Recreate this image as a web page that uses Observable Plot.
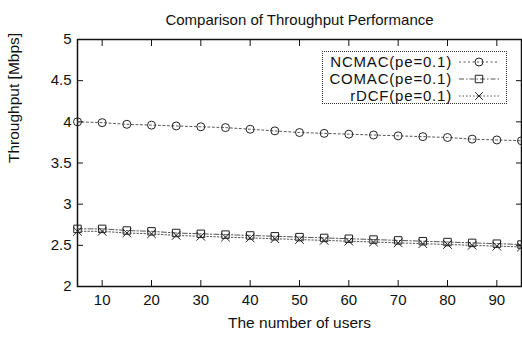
<!DOCTYPE html>
<html>
<head>
<meta charset="utf-8">
<script src="https://cdn.jsdelivr.net/npm/d3@7"></script>
<script src="https://cdn.jsdelivr.net/npm/@observablehq/plot@0.6"></script>
<style>
  html, body { margin: 0; padding: 0; background: #fff; }
  #wrap { position: relative; width: 522px; height: 341px; font-family: "Liberation Sans", Arial, sans-serif; }
  #legend { position: absolute; left: 322px; top: 51px; width: 185px; height: 53px; border: 1px dotted #333; background: #fff; box-sizing: border-box; }
  .row { position: absolute; left: 0; height: 17px; width: 100%; }
  .row span { position: absolute; right: 54px; top: 0; font-size: 15px; line-height: 17px; height: 17px; letter-spacing: 0.8px; color: #111; white-space: nowrap; }
  .row svg { position: absolute; left: 134px; top: 0; }
</style>
</head>
<body>
<div id="wrap"></div>
<script>
const title = "Comparison of Throughput Performance";
const xLabel = "The number of users";
const yLabel = "Throughput [Mbps]";
const users = [5, 10, 15, 20, 25, 30, 35, 40, 45, 50, 55, 60, 65, 70, 75, 80, 85, 90, 95];
const ncmac = [4.00, 3.99, 3.97, 3.96, 3.95, 3.94, 3.93, 3.91, 3.89, 3.87, 3.86, 3.85, 3.84, 3.83, 3.82, 3.81, 3.79, 3.78, 3.77];
const comac = [2.70, 2.70, 2.68, 2.67, 2.65, 2.64, 2.63, 2.62, 2.61, 2.60, 2.59, 2.58, 2.57, 2.56, 2.55, 2.54, 2.53, 2.52, 2.51];
const rdcf  = [2.67, 2.67, 2.65, 2.64, 2.62, 2.61, 2.60, 2.59, 2.58, 2.57, 2.56, 2.55, 2.54, 2.53, 2.52, 2.51, 2.50, 2.49, 2.48];
const seriesNames = ["NCMAC(pe=0.1)", "COMAC(pe=0.1)", "rDCF(pe=0.1)"];
const xTicks = [10, 20, 30, 40, 50, 60, 70, 80, 90];
const yTicks = [2, 2.5, 3, 3.5, 4, 4.5, 5];

const seriesValues = [ncmac, comac, rdcf];
const styles = [
  {symbol: "circle", dash: "2,2.5", r: 4},
  {symbol: "square", dash: "5,2,1.5,2", r: 4.2},
  {symbol: "times", dash: "1.5,2", r: 4}
];
const rows = seriesNames.map((name, k) => users.map((u, i) => ({x: u, y: seriesValues[k][i], s: name})));

const marks = [];
rows.forEach((data, k) => {
  marks.push(Plot.line(data, {x: "x", y: "y", stroke: "#555", strokeWidth: 1, strokeDasharray: styles[k].dash}));
  marks.push(Plot.dot(data, {x: "x", y: "y", symbol: () => styles[k].symbol, r: styles[k].r, stroke: "#222", strokeWidth: 1, fill: "none"}));
});

const chart = Plot.plot({
  width: 522,
  height: 341,
  marginLeft: 77,
  marginRight: 1,
  marginTop: 39,
  marginBottom: 55,
  style: {fontFamily: "Liberation Sans, Arial, sans-serif", fontSize: "14px", color: "#111", background: "#fff"},
  x: {domain: [5, 95]},
  y: {domain: [2, 5]},
  marks: [
    Plot.frame({stroke: "#111", strokeWidth: 1.5}),
    Plot.axisX(xTicks, {anchor: "bottom", tickSize: -6, tickPadding: 14, label: null, fontSize: 15}),
    Plot.axisX(xTicks, {anchor: "top", tickSize: -6, tickFormat: () => "", label: null}),
    Plot.axisY(yTicks, {anchor: "left", tickSize: -6, tickPadding: 12, label: null, fontSize: 15, tickFormat: d => String(d)}),
    Plot.axisY(yTicks, {anchor: "right", tickSize: -6, tickFormat: () => "", label: null}),
    ...marks,
    Plot.text([title], {frameAnchor: "top", dy: -25, fontSize: 15, text: d => d}),
    Plot.text([xLabel], {frameAnchor: "bottom", dy: 41, fontSize: 15.5, text: d => d}),
    Plot.text([yLabel], {frameAnchor: "left", dx: -63, rotate: -90, fontSize: 15.5, text: d => d})
  ]
});
const wrap = document.getElementById("wrap");
wrap.appendChild(chart);

// legend overlay
const legend = document.createElement("div");
legend.id = "legend";
wrap.appendChild(legend);
seriesNames.forEach((name, k) => {
  const row = document.createElement("div");
  row.className = "row";
  row.style.top = (1 + k * 17) + "px";
  const span = document.createElement("span");
  span.textContent = name;
  row.appendChild(span);
  const svg = d3.create("svg").attr("width", 44).attr("height", 17);
  svg.append("line").attr("x1", 2).attr("x2", 42).attr("y1", 9).attr("y2", 9)
    .attr("stroke", "#555").attr("stroke-dasharray", styles[k].dash);
  const sym = {circle: d3.symbolCircle, square: d3.symbolSquare, times: d3.symbolTimes}[styles[k].symbol];
  const size = styles[k].symbol === "times" ? 40 : Math.PI * styles[k].r * styles[k].r;
  svg.append("path").attr("d", d3.symbol(sym, size)()).attr("transform", "translate(22,9)")
    .attr("fill", "none").attr("stroke", "#222");
  row.appendChild(svg.node());
  legend.appendChild(row);
});
</script>
</body>
</html>
